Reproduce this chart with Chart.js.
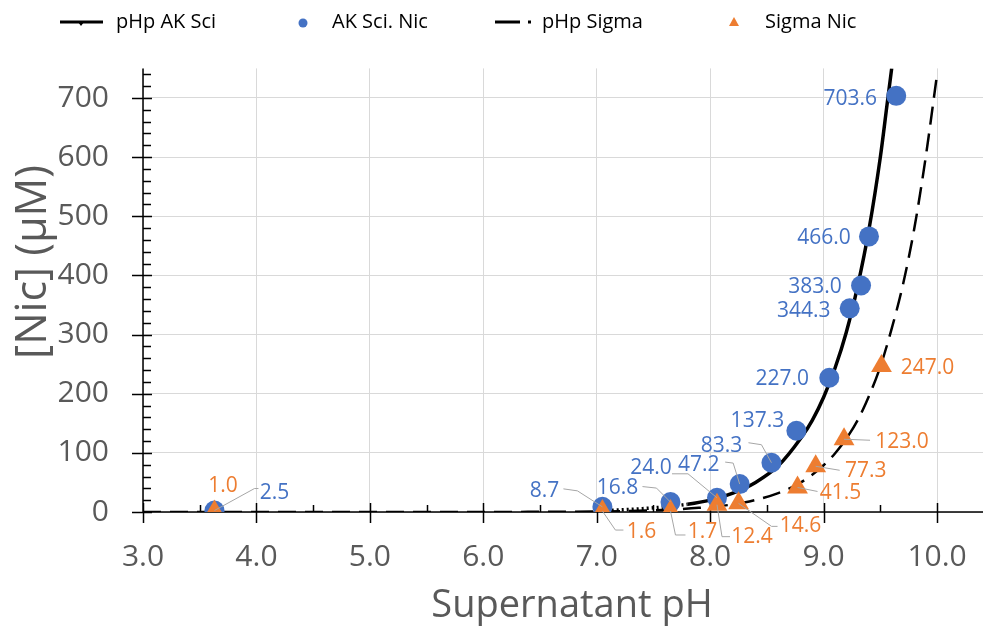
<!DOCTYPE html>
<html>
<head>
<meta charset="utf-8">
<script src="https://cdn.jsdelivr.net/npm/chart.js@4.4.1/dist/chart.umd.min.js"></script>
<style>
    html, body { margin: 0; padding: 0; background: #fff; overflow: hidden; }
</style>
</head>
<body>
<canvas id="nicChart" width="983" height="626"></canvas>
<script>
// tick labels
const xTicks = [3, 4, 5, 6, 7, 8, 9, 10];
const yTicks = [0, 100, 200, 300, 400, 500, 600, 700];

// measured points
const akSciPH = [3.63, 7.05, 7.65, 8.06, 8.26, 8.54, 8.76, 9.05, 9.23, 9.33, 9.40, 9.64];
const akSciNic = [2.5, 8.7, 16.8, 24.0, 47.2, 83.3, 137.3, 227.0, 344.3, 383.0, 466.0, 703.6];
const sigmaPH = [3.63, 7.05, 7.65, 8.06, 8.25, 8.77, 8.93, 9.18, 9.51];
const sigmaNic = [1.0, 1.6, 1.7, 12.4, 14.6, 41.5, 77.3, 123.0, 247.0];

// fitted curves
const fitAkPH = [3.0, 4.0, 5.0, 6.0, 6.5, 7.0, 7.5, 7.8, 8.0, 8.2, 8.4, 8.6, 8.8, 8.9, 9.0, 9.1, 9.2, 9.3, 9.4, 9.5, 9.56, 9.6];
const fitAkNic = [0, 0, 0, 0.2, 0.7, 2, 7, 13, 20, 32, 50, 78, 125, 155, 194, 243, 304, 382, 478, 600, 690, 750];
const fitSigmaPH = [3.0, 4.0, 5.0, 6.0, 6.5, 7.0, 7.5, 7.9, 8.3, 8.6, 8.8, 9.0, 9.1, 9.2, 9.3, 9.4, 9.5, 9.6, 9.7, 9.8, 9.9, 10.0];
const fitSigmaNic = [0, 0, 0, 0.1, 0.3, 0.9, 2.8, 7, 16, 32, 50, 79, 99, 124, 155, 196, 246, 310, 385, 480, 600, 740];

// label placement (pixel offsets from the marker) and leader lines
const akLabelPos = [[60, -18], [-58, -16], [-53, -14], [-66, -30], [-41, -19], [-50, -17], [-39, -10], [-47, 1], [-46, 2.5], [-46, 2], [-45, 2], [-46, 3]];
const akLeaders = [[[40, -22], [44, -22]], [[-25, -16], [-39, -18]], [[-14, -14], [-28, -15.5]], [[-29, -24], [-45, -24]], [[-6.5, -21], [-14.5, -22]], [[-10, -18], [-23, -20]], null, null, null, null, null, null];
const sigmaLabelPos = [[8.5, -25], [39, 21], [32, 21], [35, 32], [62, 23], [43, 5.5], [50, 5], [58, 3], [46, 2]];
const sigmaLeaders = [null, [[13, 19], [21, 19]], [[5, 24], [15, 24]], [[5, 32], [13, 32]], [[33, 23], [39, 23]], [[20, 4]], [[24, 4]], [[26, 1]], null];

const FONT = "'Open Sans', 'Noto Sans', sans-serif";
const BLUE = '#4472C4';
const ORANGE = '#ED7D31';
const GREY = '#595959';

function toXY(xs, ys) {
    return xs.map((x, i) => ({x: x, y: ys[i]}));
}

// axis lines with crossing major ticks and inner minor ticks
const axisPlugin = {
    id: 'axisPlugin',
    beforeDatasetsDraw(chart) {
        const c = chart.ctx;
        const xs = chart.scales.x, ys = chart.scales.y;
        const x0 = xs.getPixelForValue(3);
        const y0 = ys.getPixelForValue(0);
        c.save();
        c.strokeStyle = '#000';
        c.lineWidth = 1.5;
        c.beginPath();
        c.moveTo(x0, y0);
        c.lineTo(x0, ys.getPixelForValue(750));
        c.moveTo(x0, y0);
        c.lineTo(chart.chartArea.right, y0);
        for (let v = 0; v <= 740; v += 20) {
            const py = Math.round(ys.getPixelForValue(v)) + 0.5;
            if (v % 100 === 0) {
                c.moveTo(x0 - 11, py);
                c.lineTo(x0 + 9, py);
            } else {
                c.moveTo(x0, py);
                c.lineTo(x0 + 8, py);
            }
        }
        for (let v = 3; v <= 10.01; v += 0.5) {
            const px = Math.round(xs.getPixelForValue(v)) + 0.5;
            if (Number.isInteger(v)) {
                c.moveTo(px, y0 - 9);
                c.lineTo(px, y0 + 11);
            } else {
                c.moveTo(px, y0 - 7);
                c.lineTo(px, y0);
            }
        }
        c.stroke();
        c.restore();
    }
};

// data labels with leader lines
function drawLabels(chart, dsIndex, values, pos, leaders, color) {
    const c = chart.ctx;
    const meta = chart.getDatasetMeta(dsIndex);
    meta.data.forEach((pt, i) => {
        if (leaders[i]) {
            c.save();
            c.strokeStyle = '#a6a6a6';
            c.lineWidth = 1;
            c.beginPath();
            c.moveTo(pt.x, pt.y);
            leaders[i].forEach(p => c.lineTo(pt.x + p[0], pt.y + p[1]));
            c.stroke();
            c.restore();
        }
        c.save();
        c.fillStyle = color;
        c.font = '21px ' + FONT;
        c.textAlign = 'center';
        c.textBaseline = 'middle';
        c.fillText(values[i].toFixed(1), pt.x + pos[i][0], pt.y + pos[i][1]);
        c.restore();
    });
}

const labelPlugin = {
    id: 'labelPlugin',
    afterDatasetsDraw(chart) {
        drawLabels(chart, 1, akSciNic, akLabelPos, akLeaders, BLUE);
        drawLabels(chart, 3, sigmaNic, sigmaLabelPos, sigmaLeaders, ORANGE);
    }
};

// legend row and axis titles
const textPlugin = {
    id: 'textPlugin',
    afterDraw(chart) {
        const c = chart.ctx;
        const y = 22;
        c.save();
        c.strokeStyle = '#000';
        c.lineWidth = 3;
        c.beginPath();
        c.moveTo(60, y);
        c.lineTo(103, y);
        c.stroke();
        c.beginPath();
        c.moveTo(495, y);
        c.lineTo(520, y);
        c.stroke();
        c.fillStyle = '#000';
        c.fillRect(528, y - 1.5, 3, 3);
        c.beginPath();
        c.moveTo(81, y + 4);
        c.lineTo(78, y);
        c.lineTo(84, y);
        c.closePath();
        c.fill();
        c.fillStyle = BLUE;
        c.beginPath();
        c.arc(303, y + 1, 4.5, 0, Math.PI * 2);
        c.fill();
        c.fillStyle = ORANGE;
        c.beginPath();
        c.moveTo(734, y - 5);
        c.lineTo(739, y + 4);
        c.lineTo(729, y + 4);
        c.closePath();
        c.fill();

        c.fillStyle = '#000';
        c.font = '20px ' + FONT;
        c.textBaseline = 'middle';
        [['pHp AK Sci', 116], ['AK Sci. Nic', 332], ['pHp Sigma', 542], ['Sigma Nic', 765]].forEach(it => {
            c.fillText(it[0], it[1], y);
        });

        c.fillStyle = GREY;
        c.textAlign = 'center';
        c.textBaseline = 'alphabetic';
        c.font = '38px ' + FONT;
        c.fillText('Supernatant pH', 572, 617);
        c.translate(46, 262);
        c.rotate(-Math.PI / 2);
        c.font = '43px ' + FONT;
        c.fillText('[Nic] (μM)', 0, 0);
        c.restore();
    }
};

const ctx = document.getElementById('nicChart').getContext('2d');
const nicChart = new Chart(ctx, {
    type: 'scatter',
    data: {
        datasets: [{
            label: 'pHp AK Sci',
            data: toXY(fitAkPH, fitAkNic),
            showLine: true,
            borderColor: '#000',
            borderWidth: 3.5,
            pointRadius: 0,
            cubicInterpolationMode: 'monotone',
            segment: {
                // flat part hides under the axis, the foot of the curve is dotted
                borderColor: s => s.p0.parsed.x < 7.0 ? 'rgba(0,0,0,0)' : undefined,
                borderDash: s => s.p0.parsed.x < 7.8 ? [2, 3] : undefined
            },
            order: 3
        }, {
            label: 'AK Sci. Nic',
            data: toXY(akSciPH, akSciNic),
            pointRadius: 10,
            backgroundColor: BLUE,
            borderWidth: 0,
            order: 1
        }, {
            label: 'pHp Sigma',
            data: toXY(fitSigmaPH, fitSigmaNic),
            showLine: true,
            borderColor: '#000',
            borderWidth: 2.5,
            borderDash: [18, 9],
            pointRadius: 0,
            cubicInterpolationMode: 'monotone',
            order: 2
        }, {
            label: 'Sigma Nic',
            data: toXY(sigmaPH, sigmaNic),
            pointStyle: 'triangle',
            pointRadius: 12,
            backgroundColor: ORANGE,
            borderWidth: 0,
            order: 0
        }]
    },
    options: {
        responsive: false,
        animation: false,
        events: [],
        layout: {autoPadding: false, padding: {top: 68.4, right: 0, bottom: 0, left: 0}},
        plugins: {
            legend: {display: false},
            tooltip: {enabled: false}
        },
        scales: {
            x: {
                type: 'linear',
                min: 3,
                max: 10.405,
                afterBuildTicks: s => { s.ticks = xTicks.map(v => ({value: v})); },
                afterFit: s => { s.height = 114; },
                grid: {color: '#d9d9d9', lineWidth: 1, drawTicks: false},
                border: {display: false},
                ticks: {
                    callback: v => v.toFixed(1),
                    font: {family: FONT, size: 30, lineHeight: 2.2},
                    color: GREY,
                    padding: 12,
                    autoSkip: false,
                    maxRotation: 0
                }
            },
            y: {
                type: 'linear',
                min: 0,
                max: 750,
                afterBuildTicks: s => { s.ticks = yTicks.map(v => ({value: v})); },
                afterFit: s => { s.width = 143; },
                grid: {color: '#d9d9d9', lineWidth: 1, drawTicks: false},
                border: {display: false},
                ticks: {
                    font: {family: FONT, size: 30},
                    color: GREY,
                    padding: 34
                }
            }
        }
    },
    plugins: [axisPlugin, labelPlugin, textPlugin]
});
</script>
</body>
</html>
